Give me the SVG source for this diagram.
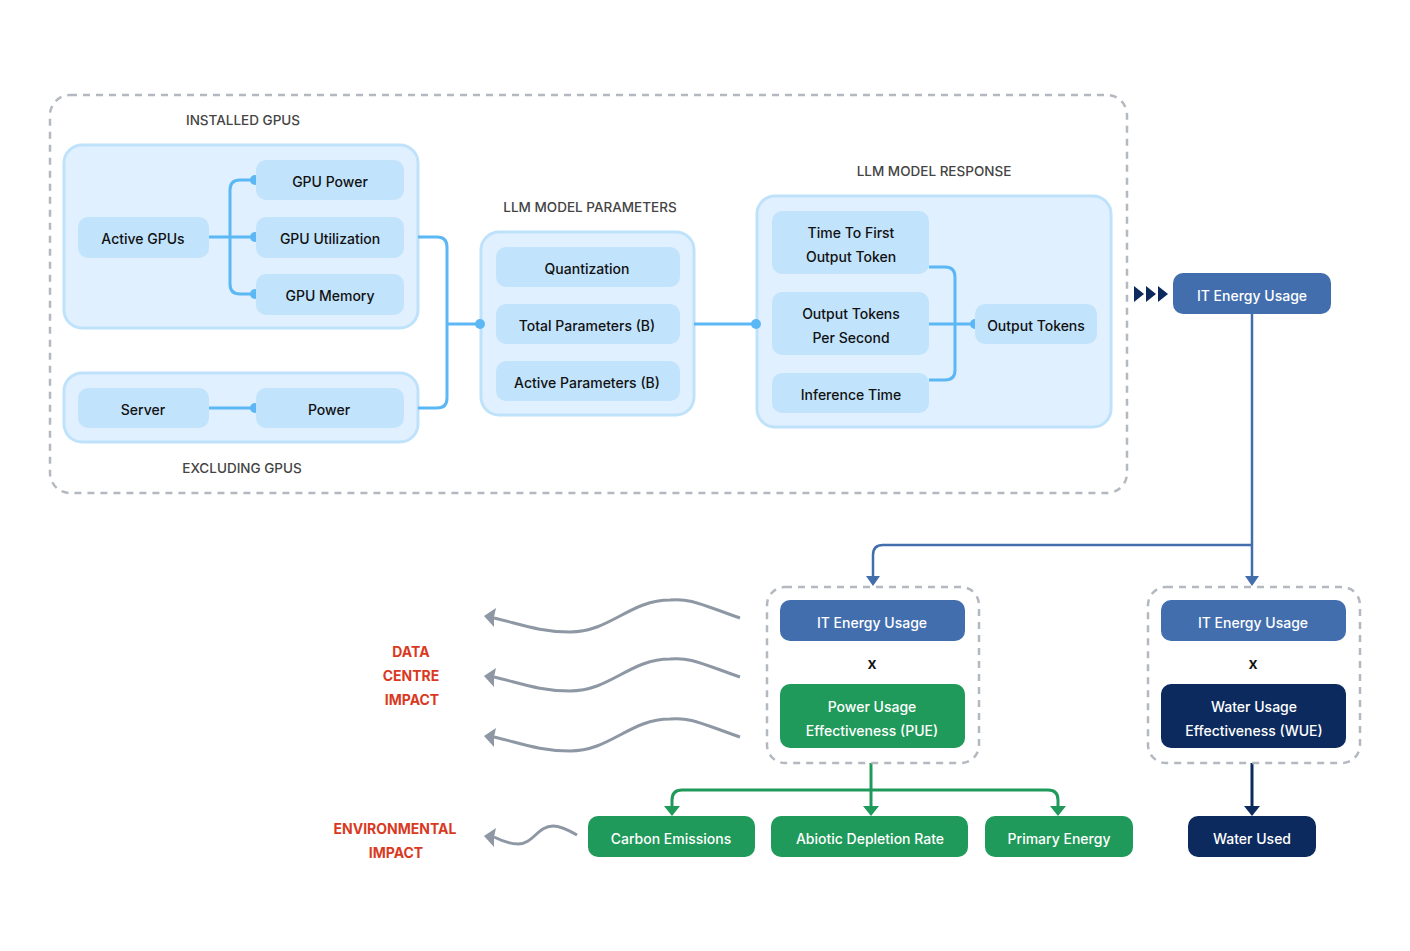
<svg xmlns="http://www.w3.org/2000/svg" width="1410" height="951" viewBox="0 0 1410 951">
<defs>
<style>
text{font-family:Inter,"Noto Sans",sans-serif;font-size:14px;text-anchor:middle;dominant-baseline:central;font-weight:500}
.grp{fill:#e0f0fe;stroke:#bfe2fb;stroke-width:3}
.n{fill:#c2e3fc}
.nt{fill:#111}
.hd{fill:#444;font-size:13.5px}
.c{fill:none;stroke:#5cb8f5;stroke-width:3}
.dot{fill:#5cb8f5}
.dash{fill:none;stroke:#b4b8c0;stroke-width:2.5;stroke-dasharray:7 6}
.blue{fill:#426eae}.green{fill:#1f9a5a}.navy{fill:#0c2a5e}
.wt{fill:#fff}
.x{fill:#111;font-size:16px;font-weight:600}
.red{fill:#d93a1f;font-weight:bold}
.wave{fill:none;stroke:#8e97a4;stroke-width:3}
.wh{fill:#8e97a4}
</style>
</defs>
<rect width="1410" height="951" fill="#fff"/>
<rect x="50" y="95" width="1077" height="398" rx="20" class="dash"/>
<text x="243" y="120" class="hd">INSTALLED GPUS</text>
<text x="242" y="468" class="hd">EXCLUDING GPUS</text>
<text x="590" y="207" class="hd">LLM MODEL PARAMETERS</text>
<text x="934" y="171" class="hd">LLM MODEL RESPONSE</text>
<g id="installed"><rect x="64" y="145" width="354" height="183" rx="18" class="grp"/></g>
<g id="excluding"><rect x="64" y="373" width="354" height="69" rx="18" class="grp"/></g>
<g id="params"><rect x="481" y="232" width="213" height="183" rx="18" class="grp"/></g>
<g id="response"><rect x="757" y="196" width="354" height="231" rx="18" class="grp"/></g>
<g id="connectors">
<path class="c" d="M209,237 H255 M255,180 H240 Q230,180 230,190 V284 Q230,294 240,294 H255"/>
<path class="c" d="M209,408 H255"/>
<path class="c" d="M418,237 H437 Q447,237 447,247 V398 Q447,408 437,408 H418 M447,324 H480"/>
<path class="c" d="M694,324 H756"/>
<path class="c" d="M929,267 H945 Q955,267 955,277 V370 Q955,380 945,380 H929 M929,324 H975"/>
<circle cx="255" cy="180" r="5" class="dot"/><circle cx="255" cy="237" r="5" class="dot"/><circle cx="255" cy="294" r="5" class="dot"/>
<circle cx="255" cy="408" r="5" class="dot"/><circle cx="480" cy="324" r="5" class="dot"/><circle cx="756" cy="324" r="5" class="dot"/><circle cx="975" cy="324" r="5" class="dot"/>
<path d="M1134,286 l10,8 l-10,8z M1146,286 l10,8 l-10,8z M1158,286 l10,8 l-10,8z" fill="#0c2a5e"/>
<path d="M1252,314 V578" stroke="#426eae" stroke-width="2.5" fill="none"/>
<path d="M1252,545 H883 Q873,545 873,555 V578" stroke="#426eae" stroke-width="2.5" fill="none"/>
<path d="M866,576 H880 L873,586 z M1245,576 H1259 L1252,586 z" fill="#426eae"/>
<path d="M871,763 V808" stroke="#1f9a5a" stroke-width="3" fill="none"/>
<path d="M672,808 V800 Q672,790 682,790 H1048 Q1058,790 1058,800 V808" stroke="#1f9a5a" stroke-width="3" fill="none"/>
<path d="M664,806 H680 L672,816 z M863,806 H879 L871,816 z M1050,806 H1066 L1058,816 z" fill="#1f9a5a"/>
<path d="M1252,763 V808" stroke="#0c2a5e" stroke-width="3" fill="none"/>
<path d="M1244,806 H1260 L1252,816 z" fill="#0c2a5e"/>
<path class="wave" d="M740,618 C700,604 690,598 670,600 C630,600 610,632 570,632 C540,632 520,624 494,618"/>
<path class="wave" d="M740,677 C700,663 690,657 670,659 C630,659 610,691 570,691 C540,691 520,683 494,677"/>
<path class="wave" d="M740,737 C700,723 690,717 670,719 C630,719 610,751 570,751 C540,751 520,743 494,737"/>
<path class="wave" d="M577,835 C565,828 558,826 553,826 C538,826 533,844 518,844 C508,844 500,840 494,837"/>
<path class="wh" d="M484,616 L496,608 L494,617 L494,627 z M484,676 L496,668 L494,677 L494,687 z M484,736 L496,728 L494,737 L494,747 z M484,836 L496,828 L494,837 L494,847 z"/>
</g>
<g id="n-active"><rect x="78" y="217" width="131" height="41" rx="10" class="n"/><text x="143" y="238" class="nt">Active GPUs</text></g>
<g id="n-gpupower"><rect x="256" y="160" width="148" height="40" rx="10" class="n"/><text x="330" y="181" class="nt">GPU Power</text></g>
<g id="n-gpuutil"><rect x="256" y="217" width="148" height="41" rx="10" class="n"/><text x="330" y="238" class="nt">GPU Utilization</text></g>
<g id="n-gpumem"><rect x="256" y="274" width="148" height="41" rx="10" class="n"/><text x="330" y="295" class="nt">GPU Memory</text></g>
<g id="n-server"><rect x="78" y="388" width="131" height="40" rx="10" class="n"/><text x="143" y="409" class="nt">Server</text></g>
<g id="n-power"><rect x="256" y="388" width="148" height="40" rx="10" class="n"/><text x="329" y="409" class="nt">Power</text></g>
<g id="n-quant"><rect x="496" y="247" width="184" height="40" rx="10" class="n"/><text x="587" y="268" class="nt">Quantization</text></g>
<g id="n-total"><rect x="496" y="304" width="184" height="40" rx="10" class="n"/><text x="587" y="325" class="nt">Total Parameters (B)</text></g>
<g id="n-activep"><rect x="496" y="361" width="184" height="40" rx="10" class="n"/><text x="587" y="382" class="nt">Active Parameters (B)</text></g>
<g id="n-ttft"><rect x="772" y="211" width="157" height="63" rx="10" class="n"/><text x="851" y="232" class="nt">Time To First</text><text x="851" y="256" class="nt">Output Token</text></g>
<g id="n-otps"><rect x="772" y="292" width="157" height="63" rx="10" class="n"/><text x="851" y="313" class="nt">Output Tokens</text><text x="851" y="337" class="nt">Per Second</text></g>
<g id="n-inf"><rect x="772" y="373" width="157" height="40" rx="10" class="n"/><text x="851" y="394" class="nt">Inference Time</text></g>
<g id="n-ot"><rect x="975" y="304" width="122" height="40" rx="10" class="n"/><text x="1036" y="325" class="nt">Output Tokens</text></g>
<g id="n-it"><rect x="1173" y="273" width="158" height="41" rx="10" class="blue"/><text x="1252" y="295" class="wt">IT Energy Usage</text></g>
<rect x="767" y="587" width="212" height="176" rx="18" class="dash"/>
<rect x="1148" y="587" width="212" height="176" rx="18" class="dash"/>
<g id="n-it1"><rect x="780" y="600" width="185" height="41" rx="10" class="blue"/><text x="872" y="622" class="wt">IT Energy Usage</text></g>
<text x="872" y="663" class="x">x</text>
<g id="n-pue"><rect x="780" y="684" width="185" height="64" rx="10" class="green"/><text x="872" y="706" class="wt">Power Usage</text><text x="872" y="730" class="wt">Effectiveness (PUE)</text></g>
<g id="n-it2"><rect x="1161" y="600" width="185" height="41" rx="10" class="blue"/><text x="1253" y="622" class="wt">IT Energy Usage</text></g>
<text x="1253" y="663" class="x">x</text>
<g id="n-wue"><rect x="1161" y="684" width="185" height="64" rx="10" class="navy"/><text x="1254" y="706" class="wt">Water Usage</text><text x="1254" y="730" class="wt">Effectiveness (WUE)</text></g>
<g id="n-carbon"><rect x="588" y="816" width="167" height="41" rx="10" class="green"/><text x="671" y="838" class="wt">Carbon Emissions</text></g>
<g id="n-abiotic"><rect x="771" y="816" width="197" height="41" rx="10" class="green"/><text x="870" y="838" class="wt">Abiotic Depletion Rate</text></g>
<g id="n-primary"><rect x="985" y="816" width="148" height="41" rx="10" class="green"/><text x="1059" y="838" class="wt">Primary Energy</text></g>
<g id="n-water"><rect x="1188" y="816" width="128" height="41" rx="10" class="navy"/><text x="1252" y="838" class="wt">Water Used</text></g>
<text x="411" y="651" class="red">DATA</text><text x="411" y="675" class="red">CENTRE</text><text x="412" y="699" class="red">IMPACT</text>
<text x="395" y="828" class="red">ENVIRONMENTAL</text><text x="396" y="852" class="red">IMPACT</text>
</svg>
